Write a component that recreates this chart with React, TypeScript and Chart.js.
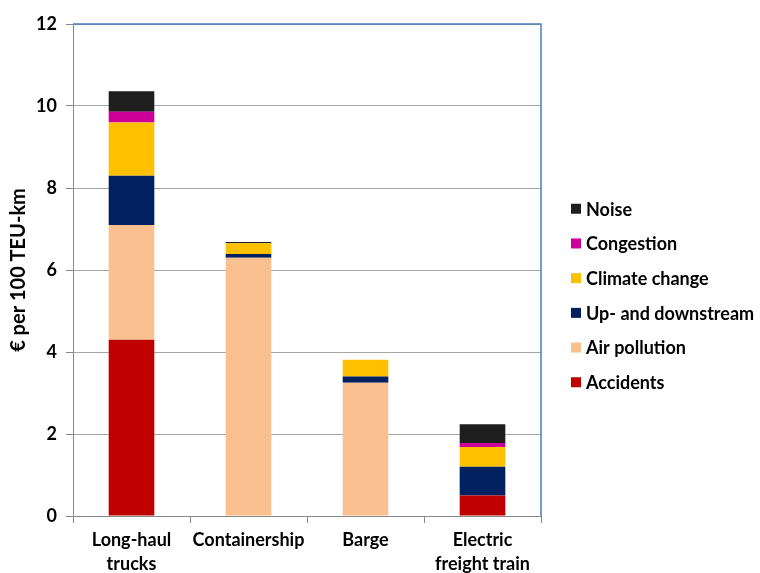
import React, { useEffect, useRef } from "react";
import { Chart, registerables } from "chart.js";

Chart.register(...registerables);

const categories: (string | string[])[] = [["Long-haul", "trucks"], "Containership", "Barge", ["Electric", "freight train"]];
const seriesNames = ["Accidents", "Air pollution", "Up- and downstream", "Climate change", "Congestion", "Noise"];
const accidents = [4.3, 0, 0, 0.5];
const airPollution = [2.8, 6.3, 3.25, 0];
const upDownstream = [1.2, 0.09, 0.15, 0.7];
const climateChange = [1.3, 0.26, 0.41, 0.48];
const congestion = [0.26, 0, 0, 0.1];
const noise = [0.5, 0.03, 0, 0.46];
const seriesColors = ["#c00000", "#fac090", "#002060", "#ffc000", "#cc0099", "#1e1e1e"];
const yTitle = "€ per 100 TEU-km";

const FONT = "Lato, 'DejaVu Sans', sans-serif";

export default function App() {
  const ref = useRef<HTMLCanvasElement | null>(null);
  useEffect(() => {
    if (!ref.current) return;
    const values = [accidents, airPollution, upDownstream, climateChange, congestion, noise];
    const borderPlugin = {
      id: "plotBorder",
      afterDatasetsDraw(chart: any) {
        const { ctx, chartArea } = chart;
        ctx.save();
        ctx.strokeStyle = "#4a7ebb";
        ctx.lineWidth = 1.5;
        ctx.beginPath();
        ctx.moveTo(chartArea.left, chartArea.top);
        ctx.lineTo(chartArea.right, chartArea.top);
        ctx.lineTo(chartArea.right, chartArea.bottom);
        ctx.stroke();
        ctx.restore();
      },
    };
    const legendPlugin = {
      id: "sideLegend",
      afterDraw(chart: any) {
        const { ctx, chartArea } = chart;
        const ds = chart.data.datasets.slice().reverse();
        const spacing = 34.7;
        const mid = (chartArea.top + chartArea.bottom) / 2 + 25.5;
        const startY = mid - (spacing * (ds.length - 1)) / 2;
        const boxX = chartArea.right + 30;
        ctx.save();
        ctx.font = `bold 18px ${FONT}`;
        ctx.textBaseline = "middle";
        ctx.textAlign = "left";
        ds.forEach((d: any, i: number) => {
          const y = startY + i * spacing;
          ctx.fillStyle = d.backgroundColor;
          ctx.fillRect(boxX, y - 5, 10, 10);
          ctx.fillStyle = "#000";
          ctx.fillText(d.label, boxX + 15, y + 1);
        });
        ctx.restore();
      },
    };
    const chart = new Chart(ref.current, {
      type: "bar",
      data: {
        labels: categories,
        datasets: seriesNames.map((name, i) => ({
          label: name,
          data: values[i],
          backgroundColor: seriesColors[i],
          borderWidth: 0,
          barPercentage: 0.39,
          categoryPercentage: 1,
        })),
      },
      options: {
        animation: false,
        responsive: true,
        maintainAspectRatio: false,
        layout: { padding: { top: 24, right: 219, left: 0, bottom: 0 } },
        plugins: {
          tooltip: { enabled: false },
          legend: { display: false },
        },
        scales: {
          x: {
            stacked: true,
            offset: true,
            afterFit: (s: any) => { s.height = 57; },
            grid: { display: true, drawOnChartArea: false, drawTicks: true, tickLength: 7, color: "#888", offset: true },
            border: { color: "#888", width: 1 },
            ticks: { color: "#000", padding: 5, maxRotation: 0, font: { family: FONT, size: 18, weight: "bold", lineHeight: 1.33 } },
          },
          y: {
            stacked: true,
            min: 0,
            max: 12,
            afterFit: (s: any) => { s.width = 73; },
            ticks: { stepSize: 2, color: "#000", padding: 9, font: { family: FONT, size: 18, weight: "bold" } },
            grid: { color: "#a6a6a6", lineWidth: 1, tickLength: 7, tickColor: "#888" },
            border: { color: "#888", width: 1 },
            title: { display: true, text: yTitle, color: "#000", padding: { top: 7, bottom: 0 }, font: { family: FONT, size: 20, weight: "bold" } },
          },
        },
      },
      plugins: [borderPlugin, legendPlugin],
    } as any);
    return () => chart.destroy();
  }, []);
  return (
    <div style={{ position: "fixed", left: 0, top: 0, width: 760, height: 573 }}>
      <canvas ref={ref} />
    </div>
  );
}
